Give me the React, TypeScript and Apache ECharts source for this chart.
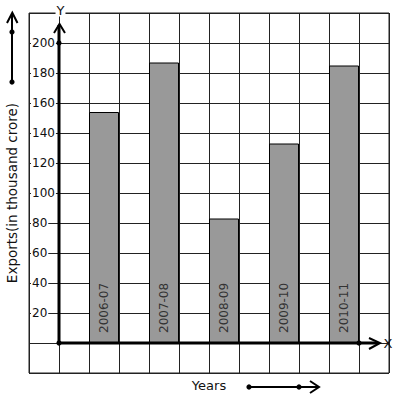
import React, { useEffect, useRef } from "react";
import * as echarts from "echarts";

const categories = ["2006-07", "2007-08", "2008-09", "2009-10", "2010-11"];
const exportsValues = [154, 187, 83, 133, 185];
const yTickLabels = [20, 40, 60, 80, 100, 120, 140, 160, 180, 200];
const slotCount = 12;
const barSlots = [2, 4, 6, 8, 10];

export default function App() {
  const ref = useRef<HTMLDivElement>(null);
  useEffect(() => {
    if (!ref.current) return;
    const chart = echarts.init(ref.current, null, { renderer: "svg" });
    const slotNames: string[] = Array.from({ length: slotCount }, (_, i) => "s" + i);
    const slotData: (number | null)[] = Array.from({ length: slotCount }, () => null);
    barSlots.forEach((s, i) => {
      slotNames[s] = categories[i];
      slotData[s] = exportsValues[i];
    });
    const tickSet = new Set(yTickLabels);
    const black = "#000";
    const gridColor = "#222";
    const dot = (x: number, y: number) => ({
      type: "circle",
      shape: { cx: x, cy: y, r: 2.6 },
      style: { fill: black },
      z: 100,
    });
    chart.setOption({
      animation: false,
      textStyle: { fontFamily: "DejaVu Sans" },
      grid: {
        left: 29,
        top: 13,
        width: 360,
        height: 360,
        containLabel: false,
        outerBoundsMode: "none",
        show: true,
        borderColor: gridColor,
        borderWidth: 1,
        backgroundColor: "#fff",
      },
      xAxis: {
        type: "category",
        data: slotNames,
        name: "Years",
        nameLocation: "middle",
        nameGap: 6,
        nameTextStyle: { fontSize: 13, color: "#111" },
        axisLine: { show: false },
        axisTick: { show: false, interval: 0 },
        axisLabel: { show: false, interval: 0 },
        splitLine: { show: true, interval: 0, lineStyle: { color: gridColor, width: 1 } },
      },
      yAxis: {
        type: "value",
        min: -20,
        max: 220,
        interval: 20,
        name: "Exports(in thousand crore)",
        nameLocation: "middle",
        nameRotate: 90,
        nameGap: 10,
        nameTextStyle: { fontSize: 13.5, color: "#111" },
        axisLine: { show: false },
        axisTick: { show: false },
        axisLabel: {
          inside: true,
          margin: 2,
          fontSize: 12,
          color: "#111",
          backgroundColor: "#fff",
          padding: [0, 1],
          formatter: (v: number) => (tickSet.has(v) ? String(v) : ""),
        },
        splitLine: { show: true, lineStyle: { color: gridColor, width: 1 } },
      },
      series: [
        {
          type: "bar",
          data: slotData,
          barWidth: "100%",
          itemStyle: { color: "#999999", borderColor: black, borderWidth: 1 },
          label: {
            show: true,
            position: "insideBottom",
            distance: 10,
            rotate: 90,
            align: "left",
            verticalAlign: "middle",
            fontSize: 12,
            color: "#333",
            formatter: (p: any) => p.name,
          },
        },
      ],
      graphic: [
        { type: "line", shape: { x1: 59, y1: 343, x2: 59, y2: 25 }, style: { stroke: black, lineWidth: 3 }, z: 100 },
        { type: "polyline", shape: { points: [[54, 33], [59.5, 24], [65, 33]] }, style: { stroke: black, lineWidth: 2, fill: null }, z: 100 },
        { type: "line", shape: { x1: 59, y1: 343, x2: 378, y2: 343 }, style: { stroke: black, lineWidth: 3 }, z: 100 },
        { type: "polyline", shape: { points: [[369, 338], [380, 343], [369, 349]] }, style: { stroke: black, lineWidth: 2, fill: null }, z: 100 },
        dot(59, 43),
        dot(59, 343),
        dot(359, 343),
        {
          type: "text", x: 60.5, y: 10, z: 100,
          style: { text: "Y", fontSize: 13, fill: "#111", align: "center", verticalAlign: "middle", backgroundColor: "#fff", padding: [0, 1], fontFamily: "DejaVu Sans" },
        },
        {
          type: "text", x: 388, y: 343, z: 100,
          style: { text: "X", fontSize: 13, fill: "#111", align: "center", verticalAlign: "middle", fontFamily: "DejaVu Sans" },
        },
        { type: "line", shape: { x1: 12, y1: 82, x2: 12, y2: 14 }, style: { stroke: black, lineWidth: 2 }, z: 100 },
        { type: "polyline", shape: { points: [[7, 23], [12.3, 12.7], [17.5, 23]] }, style: { stroke: black, lineWidth: 2, fill: null }, z: 100 },
        dot(12, 32),
        dot(12, 82),
        { type: "line", shape: { x1: 249, y1: 387, x2: 318, y2: 387 }, style: { stroke: black, lineWidth: 2 }, z: 100 },
        { type: "polyline", shape: { points: [[310, 381], [319, 387], [310, 393]] }, style: { stroke: black, lineWidth: 2, fill: null }, z: 100 },
        dot(249, 387),
        dot(299, 387),
      ],
    });
    return () => chart.dispose();
  }, []);
  return (
    <div
      ref={ref}
      style={{ position: "fixed", left: 0, top: 0, width: 397, height: 399, background: "#fff" }}
    />
  );
}
